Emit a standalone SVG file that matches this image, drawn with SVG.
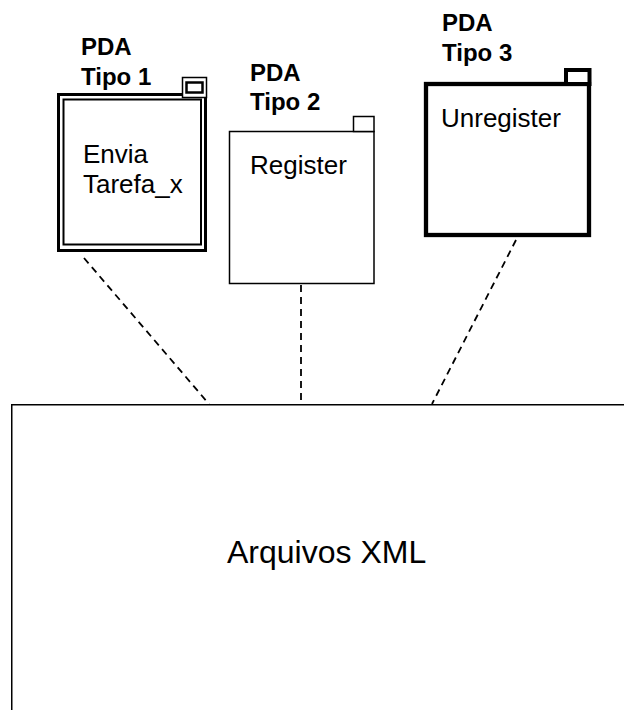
<svg xmlns="http://www.w3.org/2000/svg" width="624" height="710" viewBox="0 0 624 710">
<style>
.lbl{font-family:"Liberation Sans",Arial,sans-serif;font-weight:bold;font-size:24px;fill:#000}
.txt{font-family:"Liberation Sans",Arial,sans-serif;font-size:26px;fill:#000}
.big{font-family:"Liberation Sans",Arial,sans-serif;font-size:32px;fill:#000}
.box{fill:#fff;stroke:#000}
.conn{stroke:#000;stroke-width:1.8;stroke-dasharray:7 5;fill:none}
</style>
<rect width="624" height="710" fill="#fff"/>
<g id="connectors">
<line class="conn" x1="84" y1="258" x2="209" y2="404"/>
<line class="conn" x1="301" y1="285" x2="301" y2="404"/>
<line class="conn" x1="516" y1="240" x2="432" y2="404"/>
</g>
<g id="xml">
<rect class="box" x="11.75" y="404.75" width="700" height="400" stroke-width="1.5"/>
<text class="big" x="227" y="563">Arquivos XML</text>
</g>
<g id="pda1">
<text class="lbl" x="81" y="55">PDA</text>
<text class="lbl" x="81" y="85">Tipo 1</text>
<rect class="box" x="58.5" y="94.5" width="147" height="156" stroke-width="3"/>
<rect class="box" x="63.5" y="99.5" width="137.5" height="145" stroke-width="2"/>
<rect class="box" x="182.5" y="77.5" width="24" height="20" stroke-width="1.5"/>
<rect class="box" x="186.5" y="82.5" width="16" height="10" stroke-width="2.5"/>
<text class="txt" x="83" y="163">Envia</text>
<text class="txt" x="83" y="193">Tarefa_x</text>
</g>
<g id="pda2">
<text class="lbl" x="250" y="81">PDA</text>
<text class="lbl" x="250" y="110">Tipo 2</text>
<rect class="box" x="229.5" y="131.5" width="144.5" height="152" stroke-width="1.5"/>
<rect class="box" x="353.5" y="116.5" width="20.5" height="15" stroke-width="1.5"/>
<text class="txt" x="250" y="174">Register</text>
</g>
<g id="pda3">
<text class="lbl" x="442" y="31">PDA</text>
<text class="lbl" x="442" y="61">Tipo 3</text>
<rect class="box" x="426" y="84" width="163" height="151" stroke-width="4.3"/>
<rect class="box" x="566" y="70" width="23.5" height="14" stroke-width="4"/>
<text class="txt" x="441" y="127">Unregister</text>
</g>
</svg>
